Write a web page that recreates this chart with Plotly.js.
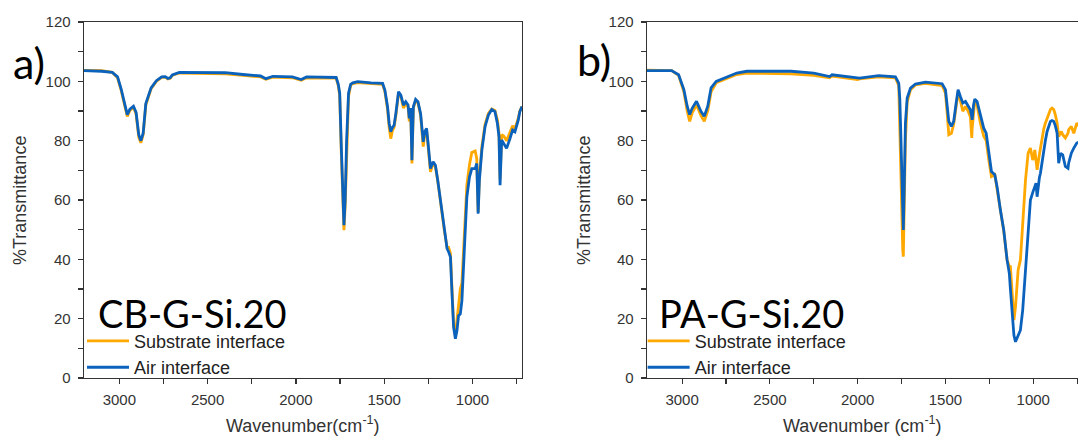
<!DOCTYPE html>
<html>
<head>
<meta charset="utf-8">
<script src="https://cdn.plot.ly/plotly-3.0.1.min.js"></script>
<style>
html,body{margin:0;padding:0;background:#fff;overflow:hidden;}
#chart{width:1078px;height:437px;}
</style>
</head>
<body>
<div id="chart"></div>
<script>
// ---- Panel a) CB-G-Si.20 ----
const cbWavenumber = [3200,3100,3040,3010,2990,2970,2955,2940,2920,2905,2890,2878,2865,2850,2820,2790,2760,2740,2725,2712,2700,2660,2500,2400,2300,2200,2170,2130,2020,1970,1940,1800,1772,1760,1752,1743,1734,1728,1721,1713,1702,1690,1678,1650,1575,1509,1496,1481,1472,1463,1453,1444,1434,1419,1406,1391,1378,1365,1358,1350,1343,1335,1322,1309,1294,1285,1279,1271,1260,1253,1245,1238,1223,1210,1197,1178,1159,1144,1135,1125,1116,1107,1097,1088,1079,1069,1060,1050,1041,1032,1017,1004,985,976,968,961,947,929,910,891,873,859,850,844,835,822,807,788,773,760,741,732,720];
const cbAir = [103.6,103.4,103.0,101.5,97.5,92,88.8,90.6,91.6,89.5,82,80.0,82.5,92.5,97.8,100.2,101.5,101.6,101.0,101.2,102.2,103.0,103.0,102.9,102.3,101.8,100.9,101.7,101.5,100.6,101.5,101.4,101.3,99,96,78,60,51.5,60,80,96,99,99.5,99.9,99.5,99.3,97,91.4,85.8,83,84.5,85.2,89.2,96.5,95.4,92,93.1,92,87.5,91,73.4,91.4,93.9,93.1,89.2,81.9,79.6,83,84.1,80,73.4,70.6,72.9,71.7,66.7,57.7,49.8,43.6,42.5,40.8,28.4,17.1,13.2,16,21,21.6,26.1,37.4,50.9,61,67.8,70.6,70.6,72.3,55.4,66.7,76.8,84.7,88.6,90.5,89.8,85.8,81.3,65,80.2,79,77.4,80.7,83.6,83,86.9,89.8,91.5];
const cbSubstrate = [103.7,103.6,103.0,101.2,97.0,91.5,88.2,90.2,91.3,89.0,81.2,79.3,82,92,97.5,100,101.3,101.4,100.8,101,102,102.8,102.7,102.5,102,101.5,100.7,101.4,101.2,100.4,101.2,101.2,101.1,98.5,95,76,58,49.8,58,78,95,98.7,99.2,99.6,99.2,99,96.5,90.5,84.5,80.7,83.5,84.5,88.5,96,95,91,92.5,91.5,86.5,90.5,72.3,91,93.5,92.8,88.5,80.5,78,82,83.5,79,72,69.5,72.5,71.2,66.5,57.5,49.5,44,44,42,30,18,14.5,20,25,30,32,44,56,65,72,76,76.5,74,56,68,78,85.5,89.2,90.7,90.2,87,82.5,67,82,81.5,80,82.5,85,84,87.5,90,91.5];

// ---- Panel b) PA-G-Si.20 ----
const paWavenumber = [3200,3060,3020,2990,2971,2957,2942,2918,2893,2874,2854,2835,2806,2748,2689,2631,2380,2250,2160,2146,2000,1990,1880,1785,1766,1760,1756,1750,1745,1743,1740,1735,1728,1718,1699,1671,1614,1519,1500,1490,1481,1466,1453,1439,1428,1415,1401,1386,1371,1358,1350,1348,1340,1333,1320,1301,1282,1268,1253,1238,1219,1206,1187,1168,1149,1136,1130,1120,1111,1110,1101,1098,1086,1073,1060,1044,1029,1016,1003,997,991,984,978,970,965,959,950,940,931,921,912,902,893,883,874,864,855,845,840,832,817,802,798,783,769,752,740,720];
const paAir = [103.6,103.6,102.2,97.2,91.6,88.8,91,93.3,89.9,88.2,91.6,97.8,100,101.5,102.8,103.4,103.4,102.8,101.6,102.2,101.2,101.1,101.9,101.5,99.4,94,85.9,69,55,51,49.9,63.4,85.9,94.4,97.7,99.1,99.7,99.2,97.2,91.6,86.5,84.8,86.5,92.7,97.2,94.9,92.7,93.2,91.6,90.4,88,87,92,94,93.2,88.2,84.2,82.5,75.8,69.6,68.5,64.5,56.6,49.9,39.8,35.2,30,20.6,14.6,14.4,12.2,12.6,14.4,16.1,22.9,36.4,51,60,62.5,63.4,64.5,65.7,61.1,66,67.5,69,73,76.9,80,83.1,85,86.5,86.8,86.5,85,82.5,72.4,75.8,75.5,75.2,71.3,70.7,72.5,75.8,77.5,79.2,79.5,80];
const paSubstrate = [103.8,103.6,102,96.5,90,86.5,89.5,92,88.5,86.5,90,96.5,99.5,101,102.3,102.8,102.5,102.0,101.2,101.8,100.6,100.8,101.5,101.2,98.5,84,72,55,45,43,40.9,55,80,93,97.2,98.8,99.3,98.6,96,89,82,82.5,85.5,91.5,96.5,93.5,89.9,91.5,90,88,80.9,84,90,93.5,92,85.9,81.5,80,73.5,67.9,68.5,64,56,49.5,39.8,37.5,37.5,27.4,20.5,19.5,24,27.4,36.4,39.8,51,66.8,75.8,77.5,73.5,74.5,76.9,74,70.2,73.5,75.2,78,81.4,84,85.9,87.5,89.3,90.5,91,90.5,88.7,86,81.4,82.5,83.1,82,80.9,82.5,83.7,84.8,82.5,85.9,85,85];

const seriesNames = ['Substrate interface', 'Air interface'];
const panelLabels = ['a)', 'b)'];
const sampleNames = ['CB-G-Si.20', 'PA-G-Si.20'];
const xTitles = ['Wavenumber(cm<sup>-1</sup>)', 'Wavenumber (cm<sup>-1</sup>)'];
const yTitle = '%Transmittance';
const yTickVals = [0, 20, 40, 60, 80, 100, 120];
const xTickVals = [1000, 1500, 2000, 2500, 3000];

const ORANGE = '#FFA800';
const BLUE = '#0B62BC';
const AX = '#333333';
const tickFont = {family: 'Liberation Sans, Arial, sans-serif', size: 15, color: '#333'};
const LW = 2.8;

const traces = [
  {x: cbWavenumber, y: cbSubstrate, name: seriesNames[0], type: 'scatter', mode: 'lines', line: {color: ORANGE, width: LW}, xaxis: 'x', yaxis: 'y', legend: 'legend'},
  {x: cbWavenumber, y: cbAir, name: seriesNames[1], type: 'scatter', mode: 'lines', line: {color: BLUE, width: LW}, xaxis: 'x', yaxis: 'y', legend: 'legend'},
  {x: paWavenumber, y: paSubstrate, name: seriesNames[0], type: 'scatter', mode: 'lines', line: {color: ORANGE, width: LW}, xaxis: 'x2', yaxis: 'y2', legend: 'legend2'},
  {x: paWavenumber, y: paAir, name: seriesNames[1], type: 'scatter', mode: 'lines', line: {color: BLUE, width: LW}, xaxis: 'x2', yaxis: 'y2', legend: 'legend2'}
];

function xax(domain, range, mirror) {
  return {domain: domain, range: range, tickvals: xTickVals, ticks: 'outside', ticklen: 5, tickwidth: 1.2, tickcolor: AX,
    minor: {dtick: 250, tick0: 0, ticks: 'outside', ticklen: 5, tickwidth: 1.2, tickcolor: AX},
    showline: true, linecolor: AX, linewidth: 1.4, mirror: mirror, showgrid: false, zeroline: false,
    tickfont: tickFont, ticklabelstandoff: 3, fixedrange: true};
}
function yax(anchor, mirror) {
  return {anchor: anchor, range: [0, 120], tickvals: yTickVals, ticks: 'outside', ticklen: 5, tickwidth: 1.2, tickcolor: AX,
    minor: {dtick: 10, tick0: 0, ticks: 'outside', ticklen: 5, tickwidth: 1.2, tickcolor: AX},
    showline: true, linecolor: AX, linewidth: 1.4, mirror: mirror, showgrid: false, zeroline: false,
    tickfont: tickFont, ticklabelstandoff: 4, fixedrange: true};
}

const legendBase = {font: {family: 'Liberation Sans, Arial, sans-serif', size: 18, color: '#222'}, bgcolor: 'rgba(0,0,0,0)',
  yanchor: 'middle', xanchor: 'left', tracegroupgap: 0, itemwidth: 42};

const bigFont = {family: 'Lato, Open Sans, sans-serif', size: 38, color: '#000'};
const labelFont = {family: 'Lato, Open Sans, sans-serif', size: 43, color: '#000'};
const titleFont = {family: 'Liberation Sans, Arial, sans-serif', size: 18, color: '#333'};

const layout = {
  width: 1078, height: 437,
  margin: {l: 84, r: 0, t: 22, b: 59},
  paper_bgcolor: '#fff', plot_bgcolor: '#fff',
  showlegend: true,
  xaxis: xax([0, 0.4406], [3200, 720], true),
  yaxis: yax('x', true),
  xaxis2: Object.assign(xax([0.5664, 1], [3200, 745], true), {anchor: 'y2'}),
  yaxis2: yax('x2', false),
  legend: Object.assign({}, legendBase, {x: -0.002, y: 0.067}),
  legend2: Object.assign({}, legendBase, {x: 0.5620, y: 0.067}),
  annotations: [
    {text: panelLabels[0], xref: 'paper', yref: 'paper', x: -0.073, y: 0.885, xanchor: 'left', yanchor: 'middle', showarrow: false, font: labelFont},
    {text: panelLabels[1], xref: 'paper', yref: 'paper', x: 0.494, y: 0.895, xanchor: 'left', yanchor: 'middle', showarrow: false, font: labelFont},
    {text: sampleNames[0], xref: 'paper', yref: 'paper', x: 0.0121, y: 0.183, xanchor: 'left', yanchor: 'middle', showarrow: false, font: bigFont},
    {text: sampleNames[1], xref: 'paper', yref: 'paper', x: 0.5765, y: 0.183, xanchor: 'left', yanchor: 'middle', showarrow: false, font: bigFont},
    {text: yTitle, xref: 'paper', yref: 'paper', x: -0.0644, y: 0.5, xanchor: 'center', yanchor: 'middle', textangle: -90, showarrow: false, font: titleFont},
    {text: yTitle, xref: 'paper', yref: 'paper', x: 0.5030, y: 0.5, xanchor: 'center', yanchor: 'middle', textangle: -90, showarrow: false, font: titleFont},
    {text: xTitles[0], xref: 'paper', yref: 'paper', x: 0.2203, y: -0.131, xanchor: 'center', yanchor: 'middle', showarrow: false, font: titleFont},
    {text: xTitles[1], xref: 'paper', yref: 'paper', x: 0.7827, y: -0.131, xanchor: 'center', yanchor: 'middle', showarrow: false, font: titleFont}
  ]
};

Plotly.newPlot('chart', traces, layout, {displayModeBar: false, staticPlot: true});
</script>
</body>
</html>
